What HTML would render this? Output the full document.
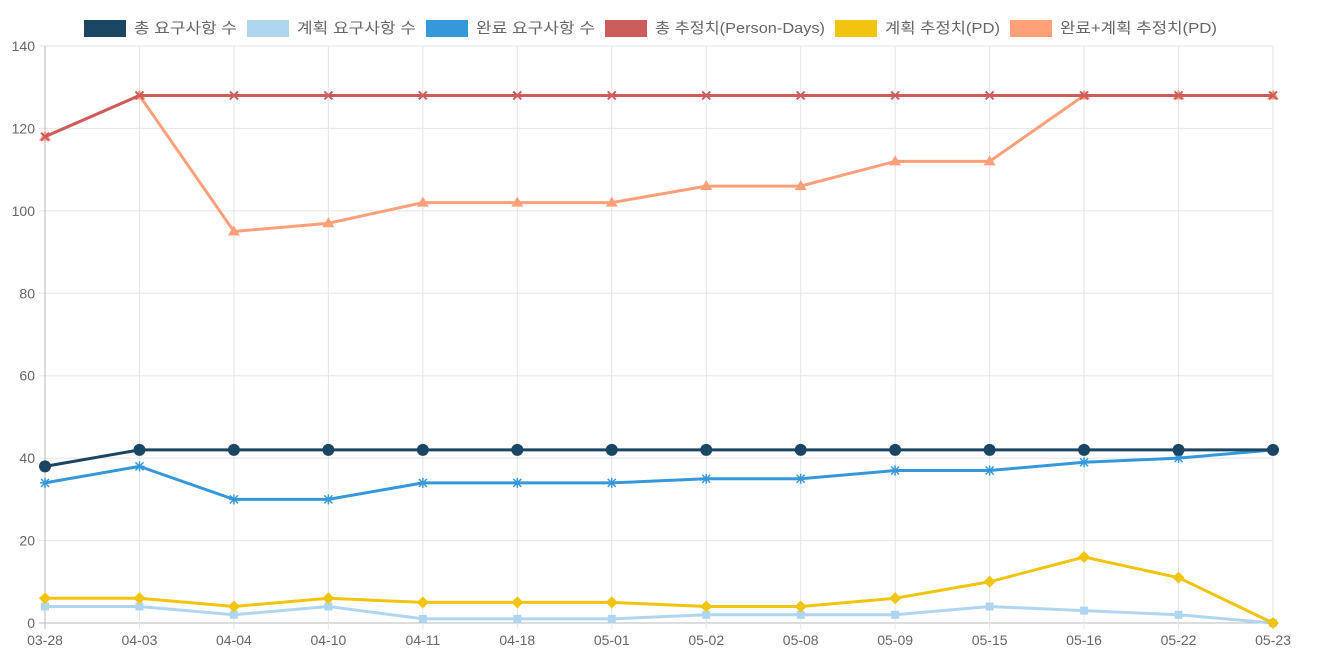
<!DOCTYPE html>
<html><head><meta charset="utf-8"><style>
body{margin:0;background:#fff;font-family:"Liberation Sans","Noto Sans CJK KR",sans-serif}
</style></head><body>
<svg id="c" width="1335" height="667" xmlns="http://www.w3.org/2000/svg"></svg>
<script>
const categories=["03-28","04-03","04-04","04-10","04-11","04-18","05-01","05-02","05-08","05-09","05-15","05-16","05-22","05-23"];
const totalReq=[38,42,42,42,42,42,42,42,42,42,42,42,42,42];
const plannedReq=[4,4,2,4,1,1,1,2,2,2,4,3,2,0];
const doneReq=[34,38,30,30,34,34,34,35,35,37,37,39,40,42];
const totalPD=[118,128,128,128,128,128,128,128,128,128,128,128,128,128];
const plannedPD=[6,6,4,6,5,5,5,4,4,6,10,16,11,0];
const donePlannedPD=[118,128,95,97,102,102,102,106,106,112,112,128,128,128];
const yTicks=[0,20,40,60,80,100,120,140];
const legendLabels=["총 요구사항 수","계획 요구사항 수","완료 요구사항 수","총 추정치(Person-Days)","계획 추정치(PD)","완료+계획 추정치(PD)"];

const NS="http://www.w3.org/2000/svg",svg=document.getElementById('c');
const L=45,R=1273,T=46,B=623;
const x=i=>L+i*(R-L)/(categories.length-1);
const y=v=>B-v/140*(B-T);
function mk(t,a,p){const e=document.createElementNS(NS,t);for(const k in a)e.setAttribute(k,a[k]);(p||svg).appendChild(e);return e;}
yTicks.forEach(v=>{
 const l=mk('line',{x1:L-6,x2:R,y1:y(v),y2:y(v),stroke:v===0?'#bbb':'#e5e5e5'});
 
 
 const t=mk('text',{x:L-10,y:y(v)+5,'text-anchor':'end','font-size':14,fill:'#666'});t.textContent=v;
 
 
});
categories.forEach((c,i)=>{
 const l=mk('line',{x1:x(i),x2:x(i),y1:T,y2:B+6,stroke:i===0?'#bbb':'#e5e5e5'});
 
 
 const t=mk('text',{x:x(i),y:B+22,'text-anchor':'middle','font-size':14,fill:'#666'});t.textContent=c;
 
 
});
function marker(g,type,cx,cy,col){
 if(type==='circle')mk('circle',{cx,cy,r:6,fill:col},g);
 else if(type==='square')mk('rect',{x:cx-4,y:cy-4,width:8,height:8,fill:col},g);
 else if(type==='diamond')mk('polygon',{points:`${cx},${cy-6} ${cx+6},${cy} ${cx},${cy+6} ${cx-6},${cy}`,fill:col},g);
 else if(type==='triangle')mk('polygon',{points:`${cx},${cy-6} ${cx+6},${cy+4} ${cx-6},${cy+4}`,fill:col},g);
 else if(type==='cross')mk('path',{d:`M${cx-4} ${cy-4}L${cx+4} ${cy+4}M${cx+4} ${cy-4}L${cx-4} ${cy+4}`,stroke:col,'stroke-width':2},g);
 else if(type==='star')mk('path',{d:`M${cx-5} ${cy}L${cx+5} ${cy}M${cx} ${cy-5}L${cx} ${cy+5}M${cx-4} ${cy-4}L${cx+4} ${cy+4}M${cx+4} ${cy-4}L${cx-4} ${cy+4}`,stroke:col,'stroke-width':1.5},g);
}
const series=[
 [plannedReq,'#aed6f1','square','planned-req'],
 [plannedPD,'#f1c40f','diamond','planned-pd'],
 [doneReq,'#3498db','star','done-req'],
 [totalReq,'#1a4563','circle','total-req'],
 [donePlannedPD,'#ffa07a','triangle','done-planned-pd'],
 [totalPD,'#cd5c5c','cross','total-pd']];
series.forEach(([d,col,m,n])=>{
 const g=mk('g',{});
 
 
 mk('polyline',{points:d.map((v,i)=>x(i)+','+y(v)).join(' '),fill:'none',stroke:col,'stroke-width':3},g);
 d.forEach((v,i)=>marker(g,m,x(i),y(v),col));
});
const lcols=['#1a4563','#aed6f1','#3498db','#cd5c5c','#f1c40f','#ffa07a'];
const lx=[84,247,426,605,835,1010];
const lw=[103,119,119,170,115,157];
legendLabels.forEach((s,i)=>{
 const g=mk('g',{});
 
 
 mk('rect',{x:lx[i],y:20,width:42,height:17,fill:lcols[i]},g);
 const t=mk('text',{x:lx[i]+50,y:33,'font-size':15,fill:'#666',textLength:lw[i],lengthAdjust:'spacingAndGlyphs'},g);t.textContent=s;
});
</script>
</body></html>
